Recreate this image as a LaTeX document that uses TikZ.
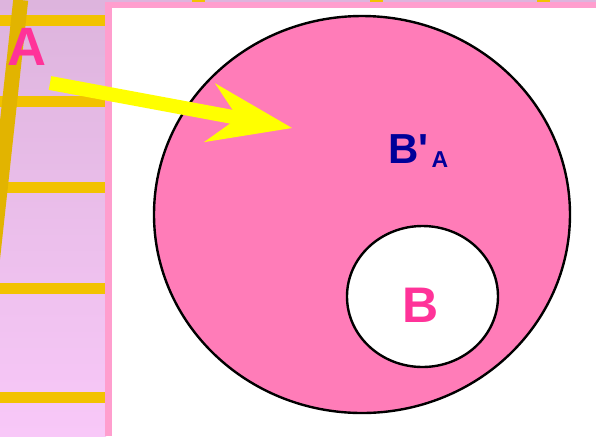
\documentclass[tikz,border=0pt]{standalone}
\usepackage{fontspec}
\setmainfont{Liberation Sans}
\usetikzlibrary{shapes.geometric,arrows.meta}
\definecolor{PanelTop}{RGB}{221,180,221}
\definecolor{PanelBottom}{RGB}{248,200,248}
\definecolor{RailYellow}{RGB}{242,194,0}
\definecolor{PoleYellow}{RGB}{226,180,0}
\definecolor{FrameRose}{RGB}{255,158,206}
\definecolor{SetRose}{RGB}{255,124,184}
\definecolor{LabelRose}{RGB}{255,51,153}
\definecolor{LabelNavy}{RGB}{0,0,153}
\definecolor{PointerYellow}{RGB}{255,255,0}

\begin{document}
\begin{tikzpicture}[
  x=0.5pt,
  y=-0.5pt,
  rail/.style={RailYellow, line width=5.5pt},
  setshape/.style={ellipse, draw=black, line width=1.2pt, inner sep=0pt},
  setlabel/.style={font=\bfseries, inner sep=0pt},
  pointer/.style={PointerYellow, line width=7pt,
    -{Stealth[length=42pt, width=30pt, inset=14.5pt, line width=0pt]}}
]
\useasboundingbox (0,0) rectangle (596,436);
\shade[top color=PanelTop, bottom color=PanelBottom] (0,0) rectangle (106,436);
\fill[PanelTop] (0,0) rectangle (596,3);
\foreach \x in {192,370,537}
  \fill[RailYellow] (\x,0) rectangle ++(13,2);
\foreach \y in {20,101,187,288,397}
  \draw[rail] (0,\y) -- (106,\y);
\draw[PoleYellow, line width=7.5pt] (20.7,0) -- (-7.6,260);
\fill[FrameRose] (105,2) rectangle (596,436);
\fill[white] (112,8) rectangle (596,436);

\node[
  setshape,
  fill=SetRose,
  minimum width=208pt,
  minimum height=198.5pt
] (bigset) at (362,214.5) {};
\node[
  setshape,
  fill=white,
  minimum width=75.5pt,
  minimum height=70.5pt
] (smallset) at (422.5,296.5) {};

\node[setlabel, text=LabelRose, font=\bfseries\fontsize{27}{30}\selectfont] (labelA) at (27,47) {A};
\node[setlabel, text=LabelNavy, anchor=base west, font=\bfseries\fontsize{21}{24}\selectfont]
  (labelcomp) at (388,163) {B\textquotesingle\hspace{1.5pt}\raisebox{-2pt}{\fontsize{11.5}{13}\selectfont A}};
\node[setlabel, text=LabelRose, font=\bfseries\fontsize{25}{28}\selectfont] (labelB) at (421,305) {B};

\coordinate (pointertail) at (50,83);
\coordinate (pointertip) at (292,128);
\draw[pointer] (pointertail) -- (pointertip);
\end{tikzpicture}
\end{document}
